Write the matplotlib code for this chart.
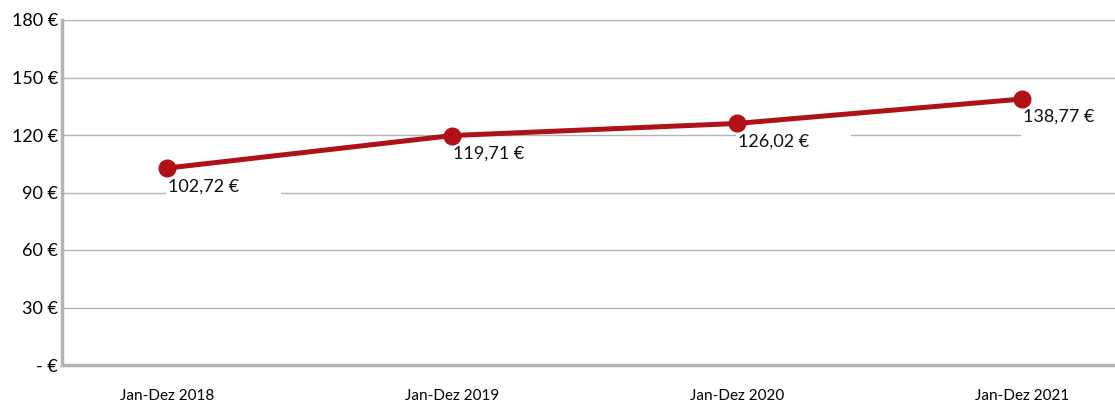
import matplotlib.pyplot as plt
from matplotlib.offsetbox import AnnotationBbox, DrawingArea
from matplotlib.patches import Rectangle

categories = ['Jan-Dez 2018', 'Jan-Dez 2019', 'Jan-Dez 2020', 'Jan-Dez 2021']
values = [102.72, 119.71, 126.02, 138.77]
value_labels = ['102,72 €', '119,71 €', '126,02 €', '138,77 €']
y_ticks = [0, 30, 60, 90, 120, 150, 180]
y_ticklabels = ['- €', '30 €', '60 €', '90 €', '120 €', '150 €', '180 €']

plt.rcParams['font.family'] = ['Lato', 'DejaVu Sans']

red = '#b01116'
grey = '#b3b3b3'

fig = plt.figure(figsize=(11.15, 4.09), dpi=100)
ax = fig.add_axes([62 / 1115, 44 / 409, 1 - 62 / 1115, 345 / 409])

x = list(range(len(categories)))
ax.plot(x, values, color=red, lw=3.6, marker='o', ms=12, zorder=5, clip_on=False)

for xi, v, lab in zip(x, values, value_labels):
    # white label background that hides the gridlines, like the original
    da = DrawingArea(83, 24, clip=False)
    da.add_artist(Rectangle((0, 0), 83, 24, fc='white', ec='none'))
    ab = AnnotationBbox(da, (xi, v), xybox=(-1, -4), boxcoords='offset points',
                        box_alignment=(0, 1), frameon=False, pad=0, zorder=3)
    ax.add_artist(ab)
    ax.annotate(lab, (xi, v), xytext=(1, -13), textcoords='offset points',
                ha='left', va='center', fontsize=13, color='#111111', zorder=4)

ax.set_xlim(-0.368, 3.326)
ax.set_ylim(0, 180)
ax.set_yticks(y_ticks)
ax.set_yticklabels(y_ticklabels, fontsize=13)
ax.set_xticks(x)
ax.set_xticklabels(categories, fontsize=11)
ax.tick_params(axis='x', length=0, pad=17)
ax.tick_params(axis='y', length=0, pad=3)

ax.grid(axis='y', color=grey, lw=1)
ax.set_axisbelow(True)
for s in ['top', 'right']:
    ax.spines[s].set_visible(False)
for s in ['left', 'bottom']:
    ax.spines[s].set_color(grey)
    ax.spines[s].set_linewidth(2.5)

fig.savefig('out.png', dpi=100)
